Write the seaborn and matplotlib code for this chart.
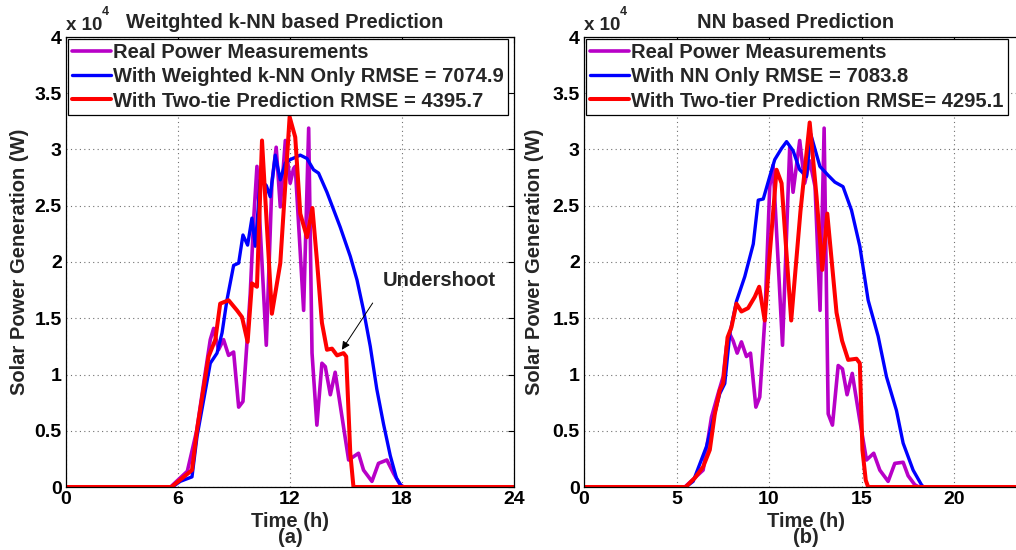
import numpy as np
import pandas as pd
import matplotlib
matplotlib.use("Agg")
import matplotlib.pyplot as plt
from matplotlib.ticker import FuncFormatter
import seaborn as sns

# ---------------- data (W) ----------------
# (a) Weighted k-NN based prediction
left_real_t = [0, 5.6, 6.5, 7.0, 7.4, 7.73, 7.91, 8.17, 8.44, 8.71, 8.98, 9.25, 9.48, 9.73, 9.87,
               10.05, 10.23, 10.73, 11.03, 11.26, 11.48, 11.75, 12.01, 12.19, 12.28, 12.73, 13.0,
               13.18, 13.44, 13.71, 13.89, 14.16, 14.42, 15.14, 15.67, 15.94, 16.39, 16.74, 17.19,
               17.55, 17.9, 18.1, 24]
left_real_v = [0, 0, 1400, 5000, 9500, 13100, 14100, 12200, 13100, 11700, 12000, 7100, 7600, 13700, 17200,
               23700, 28500, 12600, 27000, 30200, 24900, 30800, 27000, 28300, 28500, 15700, 31900,
               11900, 5500, 11000, 10700, 8200, 10200, 2400, 3000, 1500, 500, 2100, 2400,
               1200, 200, 0, 0]

left_knn_t = [0, 5.7, 6.12, 6.75, 7.02, 7.37, 7.73, 8.09, 8.36, 8.62, 8.98, 9.25, 9.48, 9.73, 9.96,
              10.14, 10.41, 10.73, 10.94, 11.21, 11.48, 11.75, 12.01, 12.55, 12.91, 13.26, 13.53,
              13.98, 14.69, 15.23, 15.59, 15.94, 16.3, 16.65, 17.01, 17.37, 17.7, 18.0, 24]
left_knn_v = [0, 0, 500, 900, 4500, 7700, 11000, 11900, 13700, 16600, 19700, 19900, 22400, 21500, 23900,
              21400, 27300, 26800, 25800, 29500, 27300, 28800, 29100, 29500, 29200, 28200, 27900,
              26200, 23100, 20500, 18400, 15700, 12500, 8700, 5600, 2800, 800, 0, 0]

left_two_t = [0, 5.65, 6.75, 7.02, 7.64, 8.0, 8.26, 8.71, 9.16, 9.43, 9.73, 9.96, 10.23, 10.5,
              11.03, 11.48, 11.98, 12.28, 12.55, 12.91, 13.2, 13.44, 13.71, 13.98, 14.25, 14.52,
              14.87, 15.01, 15.23, 15.4, 24]
left_two_v = [0, 0, 1500, 5100, 11600, 13100, 16300, 16600, 15700, 15100, 12900, 18100, 17800, 30800,
              15400, 19900, 32900, 31100, 24300, 22200, 24800, 20200, 14600, 12200, 12300, 11700,
              11900, 11600, 3000, 0, 0]

# (b) NN based prediction
right_real_t = [0, 5.45, 6.44, 6.89, 7.25, 7.52, 7.7, 7.88, 8.06, 8.28, 8.51, 8.78, 9.0, 9.29, 9.5,
                9.77, 10.04, 10.22, 10.73, 11.12, 11.3, 11.66, 11.93, 12.2, 12.49, 12.76, 12.98,
                13.2, 13.43, 13.74, 13.97, 14.22, 14.5, 14.91, 15.27, 15.66, 15.99, 16.44, 16.8,
                17.25, 17.52, 17.88, 18.1, 24]
right_real_v = [0, 0, 1500, 6200, 8300, 9800, 12500, 13600, 13000, 11900, 12900, 11600, 11900, 7100, 8000,
                14800, 26700, 28600, 12600, 30200, 26200, 30800, 27000, 29000, 26700, 15700, 31900,
                6500, 5500, 10800, 10500, 8200, 10100, 5900, 2400, 3000, 1500, 500, 2100,
                2200, 1000, 200, 0, 0]

right_nn_t = [0, 5.5, 5.9, 6.62, 6.98, 7.34, 7.61, 7.88, 8.24, 8.69, 9.15, 9.42, 9.69, 10.04, 10.31,
              10.68, 10.95, 11.3, 11.66, 12.03, 12.25, 12.75, 13.2, 13.56, 14.0, 14.46, 14.91,
              15.36, 15.9, 16.35, 16.89, 17.25, 17.79, 18.24, 18.35, 24]
right_nn_v = [0, 0, 500, 3600, 6000, 8300, 9200, 13600, 16500, 18700, 21600, 25500, 25600, 27600, 29100,
              30100, 30700, 29900, 28200, 27600, 31400, 28500, 27700, 27100, 26700, 24600, 21400,
              16600, 13400, 9800, 6800, 3900, 1500, 200, 0, 0]

right_two_t = [0, 5.5, 5.99, 6.44, 6.8, 7.07, 7.34, 7.52, 7.76, 7.97, 8.24, 8.51, 8.87, 9.23, 9.47,
               9.77, 10.04, 10.41, 10.68, 11.2, 11.7, 12.2, 12.57, 12.88, 13.15, 13.65, 13.95,
               14.28, 14.73, 14.91, 15.05, 15.23, 15.36, 24]
right_two_v = [0, 0, 800, 1800, 3300, 6500, 8600, 9200, 13300, 14200, 16300, 15600, 15900, 16900, 17800,
               14800, 20700, 28200, 27000, 14800, 24500, 32400, 25800, 19300, 24300, 15500, 13000,
               11300, 11400, 11000, 3300, 600, 0, 0]

left_labels = ["Real Power Measurements",
               "With Weighted k-NN Only RMSE = 7074.9",
               "With Two-tie Prediction RMSE = 4395.7"]
right_labels = ["Real Power Measurements",
                "With NN Only RMSE = 7083.8",
                "With Two-tier Prediction RMSE= 4295.1"]
left_xticks = [0, 6, 12, 18, 24]
right_xticks = [0, 5, 10, 15, 20]
yticks = [0, 5000, 10000, 15000, 20000, 25000, 30000, 35000, 40000]

# ---------------- style ----------------
sns.set_style("white")
plt.rcParams['font.family'] = ['Liberation Sans', 'DejaVu Sans']
plt.rcParams['font.weight'] = 'bold'
plt.rcParams['font.size'] = 14

C_REAL = (0.72, 0.0, 0.78)
C_BLUE = (0.0, 0.0, 1.0)
C_RED = (1.0, 0.0, 0.0)
FS = 14.5

W, H = 1016, 550
fig = plt.figure(figsize=(W / 100, H / 100), dpi=100)
fig.patch.set_facecolor('white')

def px(x0, y0, x1, y1):
    return [x0 / W, 1 - y1 / H, (x1 - x0) / W, (y1 - y0) / H]

axL = fig.add_axes(px(66, 37, 514, 487))
axR = fig.add_axes(px(584, 37, 1028, 487))

def draw(ax, series, labels, xticks, sub, ylab_x):
    for (t, v), lab, col, lw in zip(series, labels, [C_REAL, C_BLUE, C_RED], [2.6, 2.4, 2.9]):
        df = pd.DataFrame({"t": t, "v": v})
        sns.lineplot(data=df, x="t", y="v", ax=ax, color=col, lw=lw,
                     label=lab, estimator=None, sort=False)
    ax.set_xlim(0, 24)
    ax.set_ylim(0, 40000)
    ax.set_xticks(xticks)
    ax.set_yticks(yticks)
    ax.yaxis.set_major_formatter(FuncFormatter(lambda v, p: f"{v/1e4:g}"))
    ax.grid(True, linestyle=(0, (1, 3)), color='#707070', lw=0.8)
    ax.tick_params(direction='in', length=4, top=True, right=True, labelsize=14, pad=3,
                   colors='black')
    for lab in ax.get_xticklabels() + ax.get_yticklabels():
        lab.set_fontweight('bold')
    for s in ax.spines.values():
        s.set_color('black')
        s.set_linewidth(0.9)
    ax.set_xlabel("Time (h)\n" + sub, fontsize=FS, fontweight='bold', linespacing=0.75, labelpad=3)
    ax.set_ylabel("Solar Power Generation (W)", fontsize=FS, fontweight='bold')
    ax.yaxis.set_label_coords(ylab_x, 0.5)
    leg = ax.legend(loc='upper left', bbox_to_anchor=(0.0, 1.0), borderaxespad=0.1,
                    fontsize=FS, handlelength=1.9, handletextpad=0.1, labelspacing=0.25,
                    borderpad=0.22, frameon=True, fancybox=False, framealpha=1)
    leg.get_frame().set_edgecolor('black')
    leg.get_frame().set_linewidth(0.9)
    for txt in leg.get_texts():
        txt.set_fontweight('bold')

draw(axL, [(left_real_t, left_real_v), (left_knn_t, left_knn_v), (left_two_t, left_two_v)],
     left_labels, left_xticks, "(a)", -0.083)
draw(axR, [(right_real_t, right_real_v), (right_nn_t, right_nn_v), (right_two_t, right_two_v)],
     right_labels, right_xticks, "(b)", -0.09)

# titles and multipliers
fig.text(285 / W, 1 - 22 / H, "Weitghted k-NN based Prediction", ha='center', va='center',
         fontsize=FS, fontweight='bold')
fig.text(796 / W, 1 - 22 / H, "NN based Prediction", ha='center', va='center',
         fontsize=FS, fontweight='bold')
for x0 in (66, 584):
    fig.text(x0 / W, 1 - 25 / H, "x 10", ha='left', va='center', fontsize=13.5, fontweight='bold')
    fig.text((x0 + 36) / W, 1 - 12 / H, "4", ha='left', va='center', fontsize=9, fontweight='bold')

# annotation
axL.annotate("Undershoot", xy=(14.78, 12200), xytext=(20.0, 18400), ha='center', va='center',
             fontsize=FS, fontweight='bold',
             arrowprops=dict(arrowstyle='-|>', color='black', lw=0.7, mutation_scale=12,
                             shrinkA=9, shrinkB=0, relpos=(0.0, 0.1)))

fig.savefig("out.png", dpi=100, facecolor='white')
